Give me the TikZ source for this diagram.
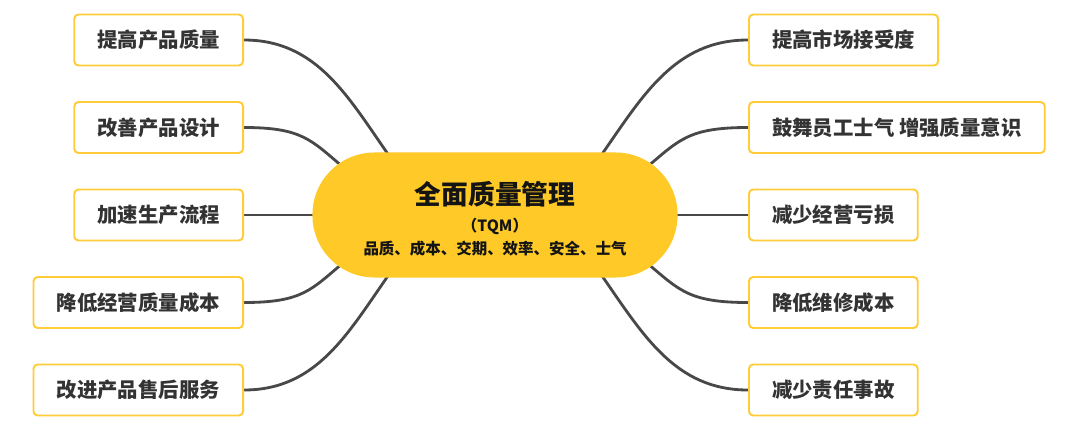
\documentclass[tikz,border=0pt]{standalone}
\usepackage{fontspec}
\setmainfont{Noto Sans CJK SC}
\usetikzlibrary{positioning, backgrounds}

\begin{document}
\begin{tikzpicture}[
    x=0.025cm, y=0.025cm,
    % Styles
    core/.style={
        rectangle, rounded corners=1.55cm,
        fill=coreyellow,
        minimum width=9.125cm, minimum height=3.125cm,
        inner sep=0pt
    },
    leaf/.style={
        rectangle, rounded corners=3pt,
        draw=leafborder, fill=white,
        line width=1.4pt,
        minimum height=1.275cm, inner xsep=0.58cm,
        font=\fontsize{14.5pt}{17pt}\selectfont\bfseries, text=leaftext
    },
    link/.style={
        line width=2pt, color=linkgray, line cap=round
    },
]
% Define colors
\definecolor{coreyellow}{RGB}{255,202,40}
\definecolor{leafborder}{RGB}{255,204,58}
\definecolor{leaftext}{RGB}{51,51,51}
\definecolor{linkgray}{RGB}{72,72,72}
\definecolor{titleblack}{RGB}{20,20,20}

\useasboundingbox (0,0) rectangle (1080,-429);

% Central topic
\node[core] (core) at (495,-215) {};
\node[font=\fontsize{19pt}{22pt}\selectfont\bfseries, text=titleblack] (title) at (495,-194) {全面质量管理};
\node[font=\fontsize{11pt}{13pt}\selectfont\bfseries, text=titleblack] (tqm) at (495,-226) {（TQM）};
\node[font=\fontsize{11pt}{13pt}\selectfont\bfseries, text=titleblack] (aspects) at (495,-248.5) {品质、成本、交期、效率、安全、士气};

% Left branches
\node[leaf, anchor=east] (l1) at (244,-40) {提高产品质量};
\node[leaf, anchor=east] (l2) at (244,-127.5) {改善产品设计};
\node[leaf, anchor=east] (l3) at (244,-215) {加速生产流程};
\node[leaf, anchor=east] (l4) at (244,-302.5) {降低经营质量成本};
\node[leaf, anchor=east] (l5) at (244,-390) {改进产品售后服务};

% Right branches
\node[leaf, anchor=west] (r1) at (748,-40) {提高市场接受度};
\node[leaf, anchor=west] (r2) at (748,-127.5) {鼓舞员工士气 增强质量意识};
\node[leaf, anchor=west] (r3) at (748,-215) {减少经营亏损};
\node[leaf, anchor=west] (r4) at (748,-302.5) {降低维修成本};
\node[leaf, anchor=west] (r5) at (748,-390) {减少责任事故};

% Connectors (behind the central topic)
\begin{scope}[on background layer]
    \draw[link] (l1.east) to[out=0, in=125] ([shift={(-105,58)}]core.center);
    \draw[link] (l2.east) to[out=0, in=140, out looseness=1.4] ([shift={(-152,48)}]core.center);
    \draw[link] (l3.east) -- (core.west);
    \draw[link] (l4.east) to[out=0, in=220, out looseness=1.4] ([shift={(-152,-48)}]core.center);
    \draw[link] (l5.east) to[out=0, in=235] ([shift={(-105,-58)}]core.center);

    \draw[link] (r1.west) to[out=180, in=55] ([shift={(105,58)}]core.center);
    \draw[link] (r2.west) to[out=180, in=40, out looseness=1.4] ([shift={(152,48)}]core.center);
    \draw[link] (r3.west) -- (core.east);
    \draw[link] (r4.west) to[out=180, in=-40, out looseness=1.4] ([shift={(152,-48)}]core.center);
    \draw[link] (r5.west) to[out=180, in=-55] ([shift={(105,-58)}]core.center);
\end{scope}

\end{tikzpicture}
\end{document}
